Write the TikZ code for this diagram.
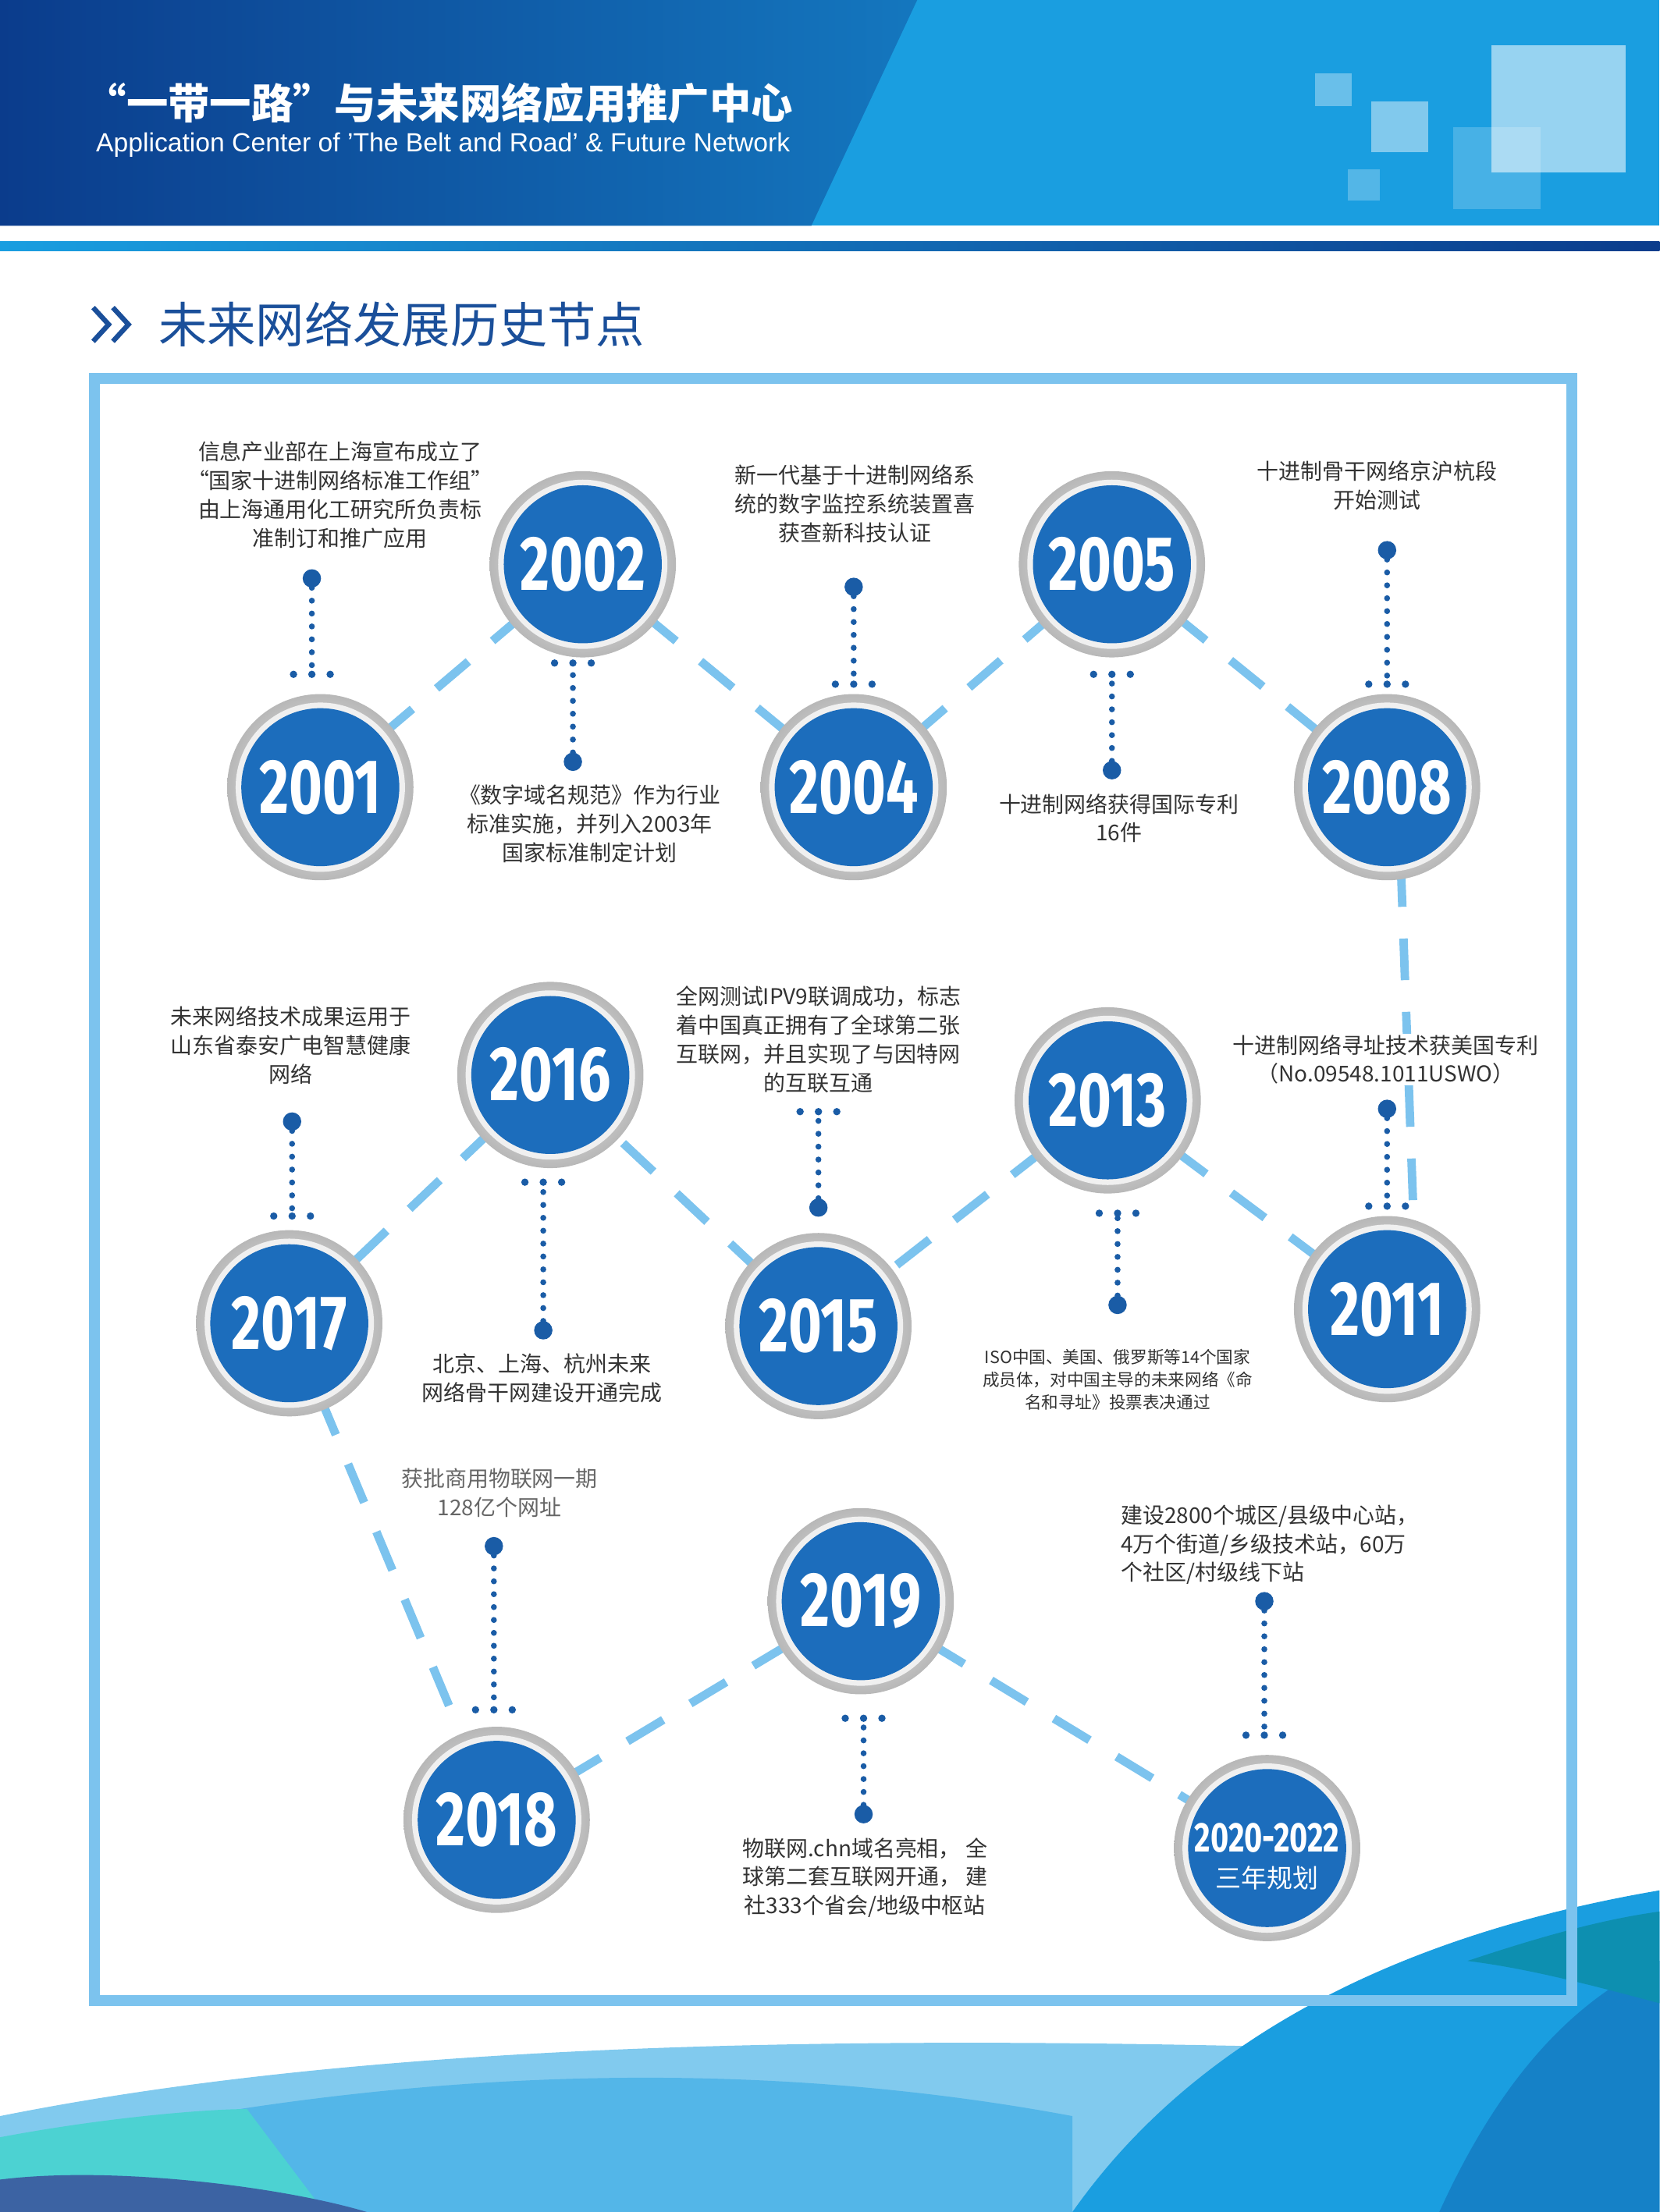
\documentclass[tikz,border=0pt]{standalone}
\usepackage{fontspec}
\setmainfont{Noto Sans CJK SC}
\newfontfamily\cjk{Noto Sans CJK SC}
\newfontfamily\yrfont{Fira Sans}
\usetikzlibrary{backgrounds,calc}
\pgfdeclarelayer{lines}
\pgfsetlayers{background,lines,main}
\definecolor{navy}{HTML}{0B3C8C}
\definecolor{bright}{HTML}{1A9EE0}
\definecolor{discblue}{HTML}{1C6DBC}
\definecolor{dashblue}{HTML}{7CC3EE}
\definecolor{dotblue}{HTML}{1A5CA6}
\definecolor{titleblue}{HTML}{1A4F9A}
\definecolor{txt}{HTML}{333333}
\tikzset{
 yrnode/.style={circle,fill=discblue,minimum size=5.6cm,inner sep=0pt,text=white,font=\yrfont\bfseries\fontsize{74}{80}\selectfont},
 dashline/.style={draw=dashblue,line width=8.5pt,dash pattern=on 42pt off 32pt},
 dotline/.style={draw=dotblue,line width=6pt,line cap=round,dash pattern=on 0pt off 13pt},
 desc/.style={align=center,text=txt,font=\cjk\fontsize{22}{29}\selectfont},
 bigdot/.style={circle,fill=dotblue,minimum size=0.65cm,inner sep=0pt},
}
\newcommand\ringat[1]{\shade[inner color=white,outer color=black!28] (#1) circle (66);
 \fill[black!6] (#1) circle (60);}
\newcommand\yr[3]{\ringat{#2}
 \node[yrnode] (#1) at (#2) {\scalebox{0.78}[1.05]{#3}};}
\newcommand\tripdots[2]{\foreach \d in {-13,0,13}{\fill[dotblue] ($(#1,#2)+(\d,0)$) circle (2.6);}}
\begin{document}
\begin{tikzpicture}[x=0.05cm,y=-0.05cm]
\useasboundingbox (0,0) rectangle (1176,1568);
\begin{scope}[on background layer]
\fill[white] (0,0) rectangle (1176,1568);
\end{scope}
% header
\fill[bright] (0,0) rectangle (1176,160);
\shade[left color=navy,right color=navy!40!bright] (0,0) -- (650,0) -- (575,160) -- (0,160) -- cycle;
\fill[white,opacity=0.35] (932,52) rectangle (958,75);
\fill[white,opacity=0.45] (972,72) rectangle (1012,108);
\fill[white,opacity=0.55] (1057,32) rectangle (1152,122);
\fill[white,opacity=0.2] (1030,90) rectangle (1092,148);
\fill[white,opacity=0.25] (955,120) rectangle (978,142);
\shade[left color=bright,right color=navy] (0,171) rectangle (1176,178);
\node[anchor=west,text=white,font=\cjk\bfseries\fontsize{42}{46}\selectfont,inner sep=0pt] (title) at (60,73) {“一带一路”与未来网络应用推广中心};
\node[anchor=west,text=white,font=\fontspec{Liberation Sans}\fontsize{26.5}{30}\selectfont,inner sep=0pt] (sub) at (68,103) {Application Center of ’The Belt and Road’ \& Future Network};
% section title
\draw[titleblue,line width=5pt] (66,218) -- (77,230) -- (66,242) (80,218) -- (91,230) -- (80,242);
\node[anchor=west,text=titleblue,font=\cjk\fontsize{49}{52}\selectfont] (sect) at (110,230) {未来网络发展历史节点};
% bottom waves
\fill[bright!55] (0,1568) -- (0,1500) .. controls (300,1440) and (700,1440) .. (1176,1460) -- (1176,1568) -- cycle;
\fill[bright!75] (170,1568) -- (170,1495) .. controls (400,1460) and (600,1470) .. (760,1500) -- (760,1568) -- cycle;
\fill[teal!50!cyan!70] (0,1568) -- (0,1515) .. controls (80,1500) and (150,1495) .. (175,1495) -- (230,1568) -- cycle;
\fill[bright] (760,1568) .. controls (850,1440) and (1000,1370) .. (1176,1340) -- (1176,1568) -- cycle;
\fill[bright!70!navy] (1020,1568) .. controls (1060,1480) and (1110,1420) .. (1176,1390) -- (1176,1568) -- cycle;
\fill[bright!50!teal] (1040,1390) .. controls (1100,1370) and (1140,1360) .. (1176,1355) -- (1176,1420) .. controls (1120,1405) and (1080,1395) .. (1040,1390) -- cycle;
\fill[navy!80] (0,1568) -- (0,1545) .. controls (80,1535) and (200,1550) .. (260,1568) -- cycle;
% frame
\draw[dashblue,line width=11pt] (67,268) rectangle (1114,1418);
% year circles
\yr{n2001}{227,558}{2001}
\yr{n2002}{413,400}{2002}
\yr{n2004}{605,558}{2004}
\yr{n2005}{788,400}{2005}
\yr{n2008}{983,558}{2008}
\yr{n2016}{390,762}{2016}
\yr{n2017}{205,938}{2017}
\yr{n2015}{580,940}{2015}
\yr{n2013}{785,780}{2013}
\yr{n2011}{983,928}{2011}
\yr{n2019}{610,1135}{2019}
\yr{n2018}{352,1290}{2018}
\ringat{898,1310}
\node[yrnode] (n2020) at (898,1310) {};
\node[text=white,font=\yrfont\bfseries\fontsize{40}{44}\selectfont] (n2020a) at (898,1303) {\scalebox{0.78}[1.05]{2020-2022}};
\node[text=white,font=\cjk\fontsize{26}{30}\selectfont] (n2020b) at (898,1331) {三年规划};
\begin{pgfonlayer}{lines}
\foreach \a/\b in {n2001/n2002,n2002/n2004,n2004/n2005,n2005/n2008,n2011/n2013,n2013/n2015,n2015/n2016,n2016/n2017,n2017/n2018,n2018/n2019,n2019/n2020}
 \draw[dashline] (\a) -- (\b);
\draw[dashline] (n2008.-80) -- (n2011.70);
\end{pgfonlayer}
% descriptions
\node[desc] (t2001) at (241,351) {信息产业部在上海宣布成立了\\“国家十进制网络标准工作组”\\由上海通用化工研究所负责标\\准制订和推广应用};
\node[desc] (t2002) at (418,584) {《数字域名规范》作为行业\\标准实施，并列入2003年\\国家标准制定计划};
\node[desc] (t2004) at (606,357) {新一代基于十进制网络系\\统的数字监控系统装置喜\\获查新科技认证};
\node[desc] (t2005) at (793,580) {十进制网络获得国际专利\\16件};
\node[desc] (t2008) at (976,344) {十进制骨干网络京沪杭段\\开始测试};
\node[desc] (t2017) at (206,741) {未来网络技术成果运用于\\山东省泰安广电智慧健康\\网络};
\node[desc] (t2016) at (384,977) {北京、上海、杭州未来\\网络骨干网建设开通完成};
\node[desc] (t2015) at (580,737) {全网测试IPV9联调成功，标志\\着中国真正拥有了全球第二张\\互联网，并且实现了与因特网\\的互联互通};
\node[desc,font=\cjk\fontsize{17}{23}\selectfont] (t2013) at (792,978) {ISO中国、美国、俄罗斯等14个国家\\成员体，对中国主导的未来网络《命\\名和寻址》投票表决通过};
\node[desc,fill=white,inner sep=1pt] (t2011) at (982,751) {十进制网络寻址技术获美国专利\\（No.09548.1011USWO）};
\node[desc,text=black!60] (t2018) at (354,1058) {获批商用物联网一期\\128亿个网址};
\node[desc] (t2019) at (613,1331) {物联网.chn域名亮相， 全\\球第二套互联网开通， 建\\社333个省会/地级中枢站};
\node[desc,align=left,anchor=west] (t2020) at (792,1095) {建设2800个城区/县级中心站，\\4万个街道/乡级技术站，60万\\个社区/村级线下站};
% dotted connectors
\foreach \n/\x/\ya/\yb in {d2001/221/410/478, d2004/605/416/485, d2008/983/390/485, d2017/207/795/862, d2015/580/856/788, d2011/983/786/855, d2018/350/1096/1212, d2002/406/540/470, d2005/788/546/478, d2016/385/943/838, d2013/792/925/860, d2019/612/1286/1218, d2020/896/1135/1230}{
 \node[bigdot] (\n) at (\x,\ya) {};
 \coordinate (\n e) at (\x,\yb);
 \draw[dotline] (\n) -- (\n e);
 \tripdots{\x}{\yb}
}
\end{tikzpicture}
\end{document}
